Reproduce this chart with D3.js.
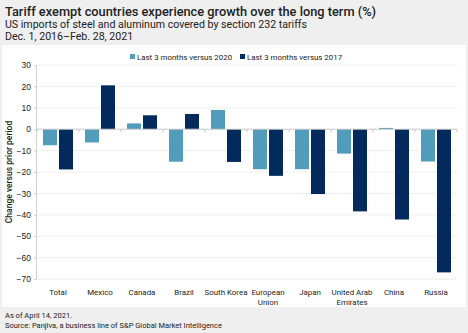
<!DOCTYPE html>
<meta charset="utf-8">
<html>
  <head>
    <title>Tariff exempt countries</title>
    <style>
      body { margin: 0; background: #efefef; }
      svg { display: block; font-family: Roboto, "Liberation Sans", sans-serif; }
      text.title { font-size: 12.8px; font-weight: 500; fill: #222; }
      text.sub { font-size: 10.6px; fill: #222; }
      text.note { font-size: 7.5px; fill: #222; }
      .yaxis text { font-size: 8.5px; fill: #222; }
      .cat { font-size: 7.9px; fill: #222; }
      .legend text { font-size: 7.9px; fill: #222; }
    </style>
    <script src="https://cdn.jsdelivr.net/npm/d3@7"></script>
  </head>
  <body>
    <div id="chart"></div>
    <script>
    // categories and series
    var countries = ["Total", "Mexico", "Canada", "Brazil", "South Korea", "European Union", "Japan", "United Arab Emirates", "China", "Russia"];
    var vs2020 = [-7.5, -6.2, 2.7, -15.2, 9.0, -18.7, -18.7, -11.4, 0.6, -15.1];
    var vs2017 = [-18.8, 20.5, 6.5, 7.1, -15.3, -21.8, -30.3, -38.4, -42.2, -66.9];
    var seriesNames = ["Last 3 months versus 2020", "Last 3 months versus 2017"];
    var colors = ["#519bbb", "#022a5c"];
    var yTicks = [30, 20, 10, 0, -10, -20, -30, -40, -50, -60, -70];

    var width = 468, height = 333;

    var svg = d3.select("#chart").append("svg")
      .attr("width", width)
      .attr("height", height);

    // white panel behind the chart
    svg.append("rect")
      .attr("x", 2).attr("y", 45)
      .attr("width", 464).attr("height", 262)
      .attr("fill", "#fff");

    // titles
    svg.append("text").attr("class", "title").attr("x", 5).attr("y", 16)
      .text("Tariff exempt countries experience growth over the long term (%)");
    svg.append("text").attr("class", "sub").attr("x", 5).attr("y", 28)
      .text("US imports of steel and aluminum covered by section 232 tariffs");
    svg.append("text").attr("class", "sub").attr("x", 5).attr("y", 40)
      .text("Dec. 1, 2016\u2013Feb. 28, 2021");

    // scales
    var y = d3.scaleLinear().domain([-70, 30]).range([279, 65]);
    var x0 = d3.scaleBand().domain(countries).range([37, 457]).paddingInner(0.286).paddingOuter(0.143);
    var x1 = d3.scaleBand().domain([0, 1]).range([0, x0.bandwidth()]).paddingInner(0.125);

    // gridlines
    svg.append("g").selectAll("line")
      .data(yTicks.filter(function(d) { return d !== 0; }))
      .enter().append("line")
      .attr("x1", 37).attr("x2", 457)
      .attr("y1", function(d) { return y(d); })
      .attr("y2", function(d) { return y(d); })
      .attr("stroke", "#efefef");

    // y axis
    var yAxis = svg.append("g").attr("class", "yaxis")
      .attr("transform", "translate(36,0)")
      .call(d3.axisLeft(y).tickValues(yTicks).tickSize(2).tickPadding(3));
    yAxis.select(".domain").attr("stroke", "#d0d0d0");
    yAxis.selectAll(".tick line").attr("stroke", "#d0d0d0");
    yAxis.selectAll("text").attr("fill", "#222");

    svg.append("text")
      .attr("transform", "translate(12,172) rotate(-90)")
      .attr("text-anchor", "middle")
      .attr("font-size", "8.5px")
      .attr("font-weight", 500)
      .attr("fill", "#222")
      .text("Change versus prior period");

    // bars
    var rows = countries.map(function(c, i) { return { name: c, vals: [vs2020[i], vs2017[i]] }; });
    var groups = svg.append("g").selectAll("g")
      .data(rows)
      .enter().append("g")
      .attr("transform", function(d) { return "translate(" + x0(d.name) + ",0)"; });

    groups.selectAll("rect")
      .data(function(d) { return d.vals; })
      .enter().append("rect")
      .attr("x", function(d, i) { return x1(i); })
      .attr("width", x1.bandwidth())
      .attr("y", function(d) { return y(Math.max(0, d)); })
      .attr("height", function(d) { return Math.abs(y(d) - y(0)); })
      .attr("fill", function(d, i) { return colors[i]; });

    // zero line with category ticks
    svg.append("line")
      .attr("x1", 37).attr("x2", 457)
      .attr("y1", y(0)).attr("y2", y(0))
      .attr("stroke", "#c8c8c8");
    svg.append("g").selectAll("line")
      .data(d3.range(countries.length + 1))
      .enter().append("line")
      .attr("x1", function(i) { return 37 + i * x0.step(); })
      .attr("x2", function(i) { return 37 + i * x0.step(); })
      .attr("y1", y(0)).attr("y2", y(0) + 3)
      .attr("stroke", "#c8c8c8");

    // bottom line
    svg.append("line")
      .attr("x1", 37).attr("x2", 457)
      .attr("y1", y(-70)).attr("y2", y(-70))
      .attr("stroke", "#efefef");

    // category labels, wrapped over two lines where needed
    var wrap = {
      "European Union": ["European", "Union"],
      "United Arab Emirates": ["United Arab", "Emirates"]
    };
    var cats = svg.append("g").selectAll("text")
      .data(countries)
      .enter().append("text")
      .attr("class", "cat")
      .attr("text-anchor", "middle")
      .attr("x", function(d) { return x0(d) + x0.bandwidth() / 2; })
      .attr("y", 295);
    cats.selectAll("tspan")
      .data(function(d) { return wrap[d] || [d]; })
      .enter().append("tspan")
      .attr("x", function() { var p = this.parentNode; return p.getAttribute("x"); })
      .attr("dy", function(d, i) { return i === 0 ? 0 : 10; })
      .text(function(d) { return d; });

    // legend
    var legendX = [130, 240];
    var legend = svg.append("g").attr("class", "legend").selectAll("g")
      .data(seriesNames)
      .enter().append("g")
      .attr("transform", function(d, i) { return "translate(" + legendX[i] + ",54)"; });
    legend.append("rect").attr("width", 5).attr("height", 5).attr("y", 0)
      .attr("fill", function(d, i) { return colors[i]; });
    legend.append("text").attr("x", 7).attr("y", 5.5).text(function(d) { return d; });

    // footer
    svg.append("text").attr("class", "note").attr("x", 5).attr("y", 318).text("As of April 14, 2021.");
    svg.append("text").attr("class", "note").attr("x", 5).attr("y", 328)
      .text("Source: Panjiva, a business line of S&P Global Market Intelligence");
    </script>
  </body>
</html>
